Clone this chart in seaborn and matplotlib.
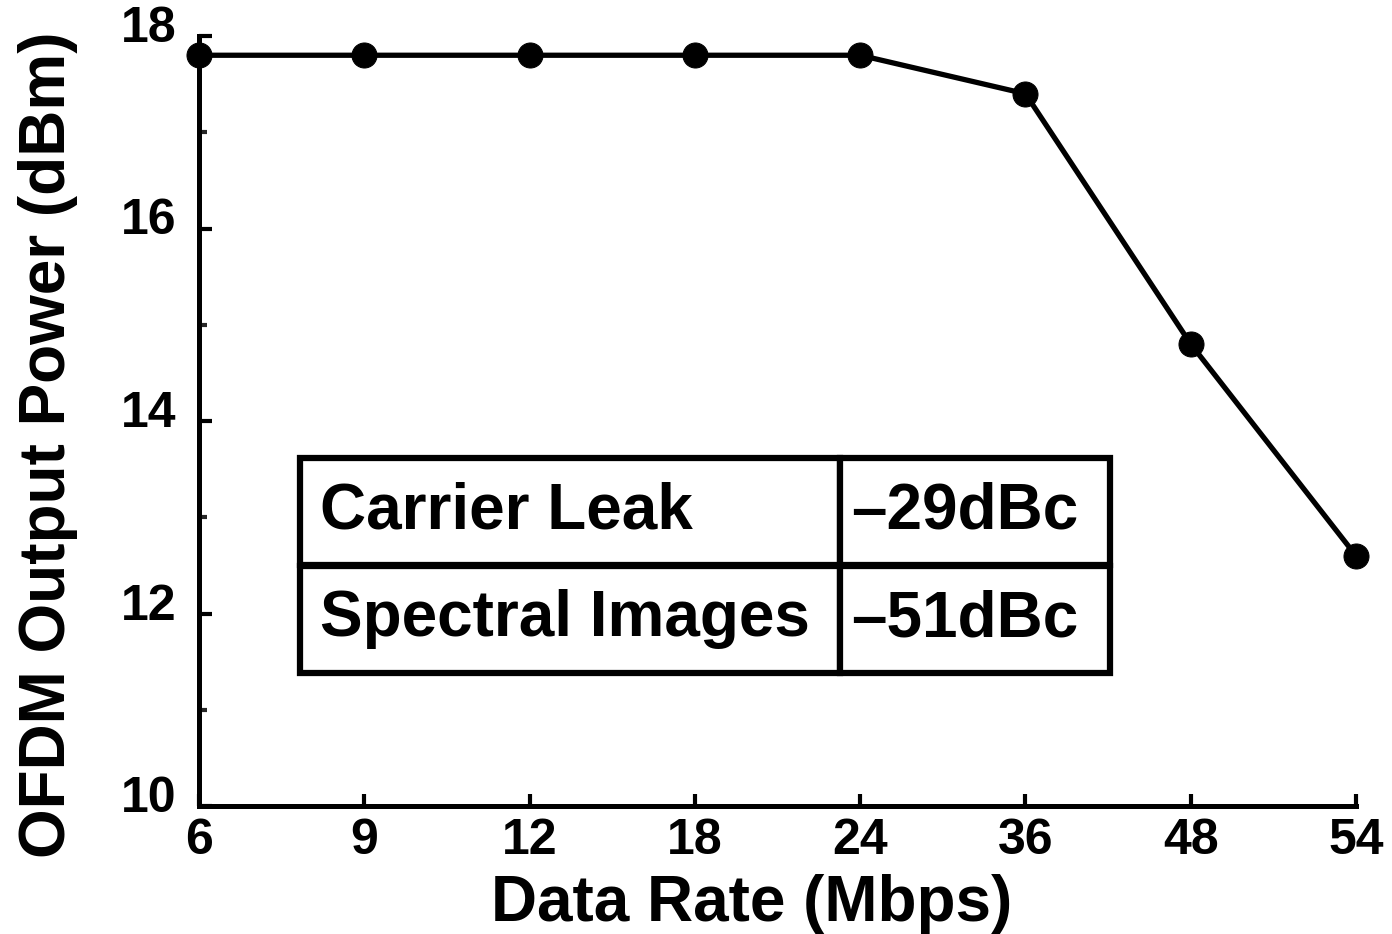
import matplotlib
matplotlib.use("Agg")
import matplotlib.pyplot as plt
import matplotlib.transforms as mtransforms
import seaborn as sns
import pandas as pd
from matplotlib.ticker import MultipleLocator

rates = ["6", "9", "12", "18", "24", "36", "48", "54"]
power = [17.8, 17.8, 17.8, 17.8, 17.8, 17.4, 14.8, 12.6]
table_rows = ["Carrier Leak", "Spectral Images"]
table_vals = ["\u201329dBc", "\u201351dBc"]
y_ticks = [10, 12, 14, 16, 18]

sns.set_theme(style="ticks")
plt.rcParams['font.family'] = ['Liberation Sans', 'DejaVu Sans']
plt.rcParams['font.weight'] = 'bold'
plt.rcParams['text.color'] = 'black'
plt.rcParams['axes.labelcolor'] = 'black'

df = pd.DataFrame({"pos": range(len(rates)), "power": power})

fig = plt.figure(figsize=(13.92, 9.34), dpi=100)
ax = fig.add_axes([199/1392, 1-806/934, (1356-199)/1392, (806-36)/934])

sns.lineplot(data=df, x="pos", y="power", ax=ax, color="black", linewidth=3.8,
             marker="o", markersize=18, markeredgecolor="black", clip_on=False)

ax.set_xlim(0, len(rates) - 1)
ax.set_ylim(10, 18)
ax.set_xticks(range(len(rates)))
ax.set_xticklabels(rates)
ax.set_yticks(y_ticks)
ax.yaxis.set_minor_locator(MultipleLocator(1))
for s in ["top", "right"]:
    ax.spines[s].set_visible(False)
for s in ["left", "bottom"]:
    ax.spines[s].set_linewidth(3.6)
    ax.spines[s].set_color("black")
ax.tick_params(axis="both", which="major", direction="in", length=9, width=3,
               labelsize=36, colors="black")
ax.tick_params(axis="x", which="major", pad=9)
ax.tick_params(axis="y", which="major", pad=16)
ax.tick_params(axis="y", which="minor", direction="in", length=6, width=3)
offset = mtransforms.ScaledTranslation(0, 12/100, fig.dpi_scale_trans)
for lab in ax.get_xticklabels():
    lab.set_fontweight("bold")
for lab in ax.get_yticklabels():
    lab.set_fontweight("bold")
    lab.set_transform(lab.get_transform() + offset)

ax.set_xlabel("Data Rate (Mbps)", fontsize=46, fontweight="bold", color="black")
ax.set_ylabel("OFDM Output Power (dBm)", fontsize=46, fontweight="bold", color="black")
ax.xaxis.set_label_coords((752-199)/1157, -(874-806)/770)
ax.yaxis.set_label_coords(-(199-78)/1157, (806-445)/770)

cell_text = [[r, v] for r, v in zip(table_rows, table_vals)]
tbl = ax.table(cellText=cell_text, colWidths=[540, 270], cellLoc="left",
               bbox=[(300-199)/1157, (806-673)/770, (1110-300)/1157, (673-458)/770])
tbl.auto_set_font_size(False)
for (r, c), cell in tbl.get_celld().items():
    cell.set_linewidth(4.5)
    cell.set_edgecolor("black")
    cell.PAD = 0.037 if c == 0 else 0.04
    cell.get_text().set_fontsize(46)
    cell.get_text().set_fontweight("bold")
    cell.get_text().set_color("black")

fig.savefig("out.png", dpi=100)
